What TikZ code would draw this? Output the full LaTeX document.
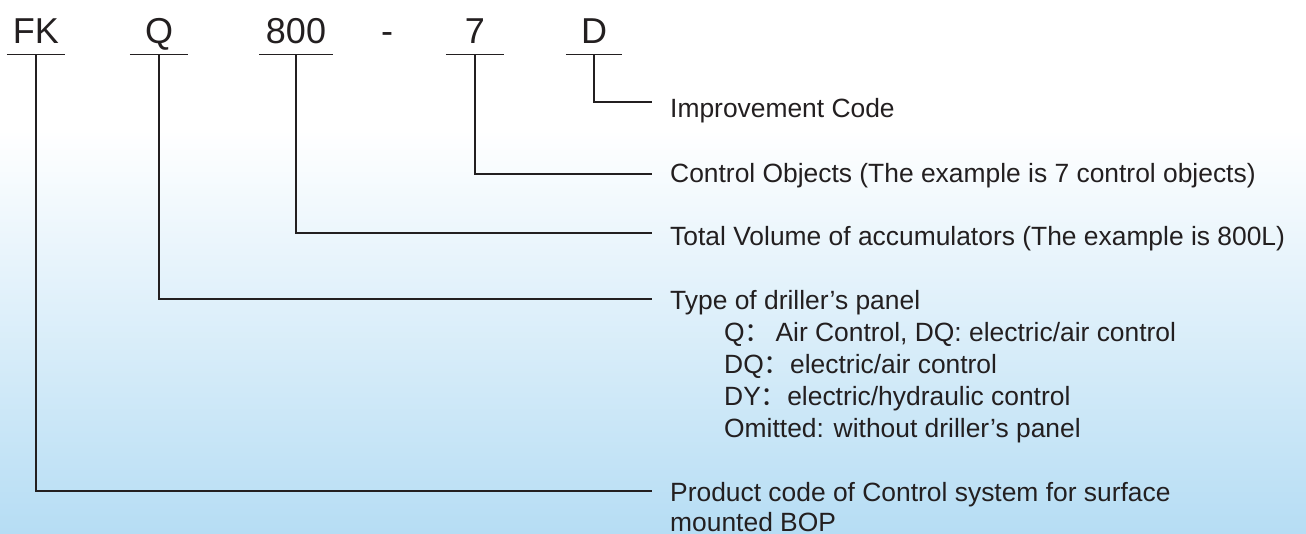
\documentclass[tikz,border=0pt]{standalone}
\usepackage{fontspec}
\setmainfont{Liberation Sans}
\newfontfamily\cjk{Noto Sans CJK SC}
\usetikzlibrary{positioning}
\definecolor{ink}{RGB}{35,31,32}
\definecolor{bgtop}{RGB}{250,253,255}
\definecolor{bgmid}{RGB}{219,238,250}
\definecolor{bgblue}{RGB}{182,221,244}

\begin{document}
\begin{tikzpicture}[
  x=1pt, y=-1pt,
  code/.style={anchor=base, inner sep=0pt, minimum width=58pt, text depth=11pt, text=ink, font=\fontsize{36}{40}\selectfont},
  lbl/.style={anchor=base west, inner sep=0pt, text=ink, font=\fontsize{26.4}{32}\selectfont},
  bar/.style={draw=ink, line width=1.2pt},
  conn/.style={draw=ink, line width=1.2pt}
]
% background
\useasboundingbox (0,0) rectangle (1306,533);
\fill[white] (0,0) rectangle (1306,130);
\shade[top color=white, middle color=bgmid, bottom color=bgblue] (0,130) rectangle (1306,533);

% the model code
\node[code] (fk) at (36,43) {FK};
\node[code] (q) at (159,43) {Q};
\node[code, minimum width=73pt] (vol) at (296,43) {800};
\node[code, minimum width=0pt] (hy) at (387,43) {-};
\node[code] (obj) at (475,43) {7};
\node[code, minimum width=56pt] (imp) at (594,43) {D};
\foreach \n in {fk,q,vol,obj,imp}
  \draw[bar] (\n.south west) -- (\n.south east);

% explanations
\node[lbl] (imptxt) at (670,117) {Improvement Code};
\node[lbl] (objtxt) at (670,182) {Control Objects (The example is 7 control objects)};
\node[lbl] (voltxt) at (670,245) {Total Volume of accumulators (The example is 800L)};
\node[lbl] (qtxt) at (670,309) {Type of driller’s panel};
\node[lbl] (q1) at (724,341) {Q{\cjk ：}\,Air Control, DQ: electric/air control};
\node[lbl] (q2) at (724,373) {DQ{\cjk ：}electric/air control};
\node[lbl] (q3) at (724,405) {DY{\cjk ：}electric/hydraulic control};
\node[lbl] (q4) at (724,437) {Omitted: without driller’s panel};
\node[lbl] (fktxt) at (670,501) {Product code of Control system for surface};
\node[lbl] (fktxt2) at (670,531) {mounted BOP};

% line ends
\coordinate (imp-in) at (652,102);
\coordinate (obj-in) at (652,174);
\coordinate (vol-in) at (652,233);
\coordinate (q-in) at (652,299);
\coordinate (fk-in) at (652,491);

\draw[conn] (imp.south) |- (imp-in);
\draw[conn] (obj.south) |- (obj-in);
\draw[conn] (vol.south) |- (vol-in);
\draw[conn] (q.south) |- (q-in);
\draw[conn] (fk.south) |- (fk-in);
\end{tikzpicture}
\end{document}
